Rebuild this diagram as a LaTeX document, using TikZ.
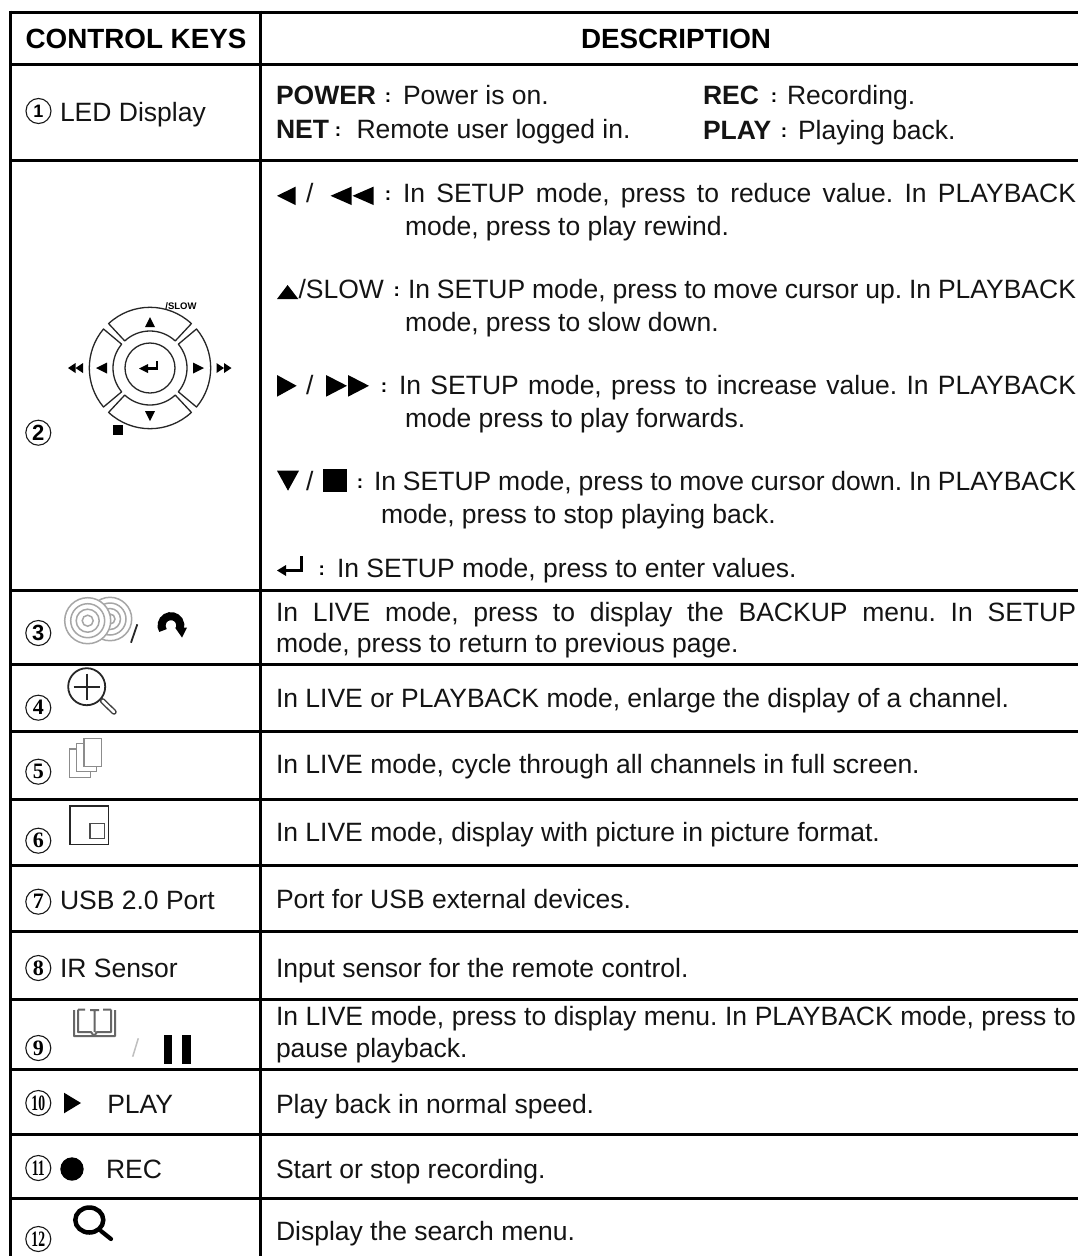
\documentclass[tikz,border=0pt]{standalone}
\usepackage{fontspec}
\usepackage{graphicx}
\setmainfont{Liberation Sans}
\newfontfamily\numfont{Liberation Serif}
\newcommand{\bodyf}{\fontsize{26.5}{33}\selectfont\frenchspacing}
\newcommand{\headf}{\fontsize{27.8}{33}\selectfont\bfseries}
\usetikzlibrary{arrows.meta}
\tikzset{
  x=1pt,y=-1pt,
  rule/.style={line width=3pt,black},
  txt/.style={inner sep=0pt,outer sep=0pt,anchor=base west,font=\bodyf,text=black!92},
  head/.style={inner sep=0pt,outer sep=0pt,anchor=base,font=\headf,text=black},
  dots/.style={inner sep=0pt,outer sep=0pt,anchor=base,font=\fontsize{19}{19}\selectfont\bfseries,text=black},
  ringb/.style={circle,draw=black!90,line width=1.1pt,minimum size=25pt,inner sep=0pt,outer sep=0pt},
  ringone/.style={ringb,font=\fontsize{18}{18}\selectfont\bfseries},
  ringbold/.style={ringb,font=\fontsize{22}{22}\selectfont\bfseries},
  ringsr/.style={ringb,font=\fontsize{22}{22}\selectfont\numfont\bfseries},
  key/.style={draw=black!85,line width=1.3pt,line join=round},
  iconline/.style={draw=black!45,line width=1.3pt},
  disc/.style={draw=black!35,line width=1.5pt},
}
\newcommand{\jline}[4]{\node[txt] (#1) at (#2,#3) {\hbox to \dimexpr 1076pt-#2pt\relax{#4}};}
\newcommand{\tline}[4]{\node[txt] (#1) at (#2,#3) {#4};}
\newcommand{\dotsat}[3]{\node[dots] (#1) at (#2,#3-2) {:};}
\begin{document}
\begin{tikzpicture}
\useasboundingbox (0,0) rectangle (1078,1256);
\fill[white] (0,0) rectangle (1078,1256);
% table rules
\foreach \yy in {12,64.5,160.5,590.7,664,731.7,799,865.7,931.7,999.3,1069.7,1134.5,1198.7}
  \draw[rule] (9,\yy) -- (1078,\yy);
\draw[rule] (10,10.5) -- (10,1256);
\draw[rule] (260,10.5) -- (260,1256);
% header
\node[head] (hkeys) at (136,48) {CONTROL KEYS};
\node[head] (hdesc) at (676,48.5) {DESCRIPTION};
% row 1
\node[ringone] (n1) at (38.5,111) {1};
\tline{led}{60}{121}{LED Display}
\tline{pw}{276}{104}{\bfseries POWER}
\dotsat{pwc}{388}{104}
\tline{pwt}{403}{104}{Power is on.}
\tline{net}{276}{138}{\bfseries NET}
\dotsat{netc}{338}{138}
\tline{nett}{356.5}{138}{Remote user logged in.}
\tline{rec}{703}{104}{\bfseries REC}
\dotsat{recc}{774}{104}
\tline{rect}{787}{104}{Recording.}
\tline{play}{703}{139}{\bfseries PLAY}
\dotsat{playc}{784}{139}
\tline{playt}{798}{139}{Playing back.}
% row 2 keypad
\node[ringbold] (n2) at (38.3,432.7) {2};
\begin{scope}[shift={(150,368)},x=1pt,y=1pt]
  \foreach \a/\b in {47/133,140/220,227/313,320/400}{
    \draw[key] (\a:60.7) arc[start angle=\a,end angle=\b,radius=60.7]
       -- (\b:37) arc[start angle=\b,end angle=\a,radius=37] -- cycle;
  }
  \draw[key] (0,0) circle[radius=25];
  \fill (-5,41) -- (5,41) -- (0,51) -- cycle;
  \fill (-5,-43) -- (5,-43) -- (0,-53) -- cycle;
  \fill (-43,-5.5) -- (-43,5.5) -- (-54,0) -- cycle;
  \fill (43,-5.5) -- (43,5.5) -- (54,0) -- cycle;
  \fill (-67,-5) -- (-67,5) -- (-74.5,0) -- cycle;
  \fill (-74.5,-5) -- (-74.5,5) -- (-82,0) -- cycle;
  \fill (66.5,-5) -- (66.5,5) -- (74,0) -- cycle;
  \fill (74,-5) -- (74,5) -- (81.5,0) -- cycle;
  \fill (-37,-57) rectangle (-27.5,-66.5);
  \draw[line width=2.6pt] (7,7) -- (7,-0.5) -- (-3,-0.5);
  \fill (-2,-5) -- (-2,4) -- (-11,-0.5) -- cycle;
\end{scope}
\node[inner sep=0pt,anchor=base,font=\fontsize{9.5}{9.5}\selectfont\bfseries] (slow) at (181,309.5) {/SLOW};
% row 2 text
\fill (295.5,186.7) -- (295.5,205) -- (277,195.8) -- cycle;
\tline{sl1}{306}{202}{/}
\fill (351.5,186.7) -- (351.5,205) -- (330.5,195.8) -- cycle;
\fill (373.5,186.7) -- (373.5,205) -- (352.5,195.8) -- cycle;
\dotsat{c1}{388}{202}
\jline{l1}{403}{202}{In SETUP mode, press to reduce value. In PLAYBACK}
\tline{l1b}{405}{235.5}{mode, press to play rewind.}
\fill (277,299) -- (298.3,299) -- (287.6,285) -- cycle;
\tline{sl2}{298.5}{298}{/SLOW}
\dotsat{c2}{396.7}{298}
\jline{l2}{408}{298}{In SETUP mode, press to move cursor up. In PLAYBACK}
\tline{l2b}{405}{331}{mode, press to slow down.}
\fill (277,375) -- (277,396.7) -- (296.7,385.8) -- cycle;
\tline{sl3}{306}{394}{/}
\fill (326,375) -- (326,396.7) -- (347,385.8) -- cycle;
\fill (348,375) -- (348,396.7) -- (369,385.8) -- cycle;
\dotsat{c3}{384}{394}
\jline{l3}{399}{394}{In SETUP mode, press to increase value. In PLAYBACK}
\tline{l3b}{405}{427}{mode press to play forwards.}
\fill (277,470.7) -- (299,470.7) -- (288,490.7) -- cycle;
\tline{sl4}{306}{490}{/}
\fill (322.7,469) rectangle (346.7,492);
\dotsat{c4}{360}{490}
\jline{l4}{374}{490}{In SETUP mode, press to move cursor down. In PLAYBACK}
\tline{l4b}{381}{523}{mode, press to stop playing back.}
\draw[line width=2.4pt] (301.5,556) -- (301.5,570.5) -- (285,570.5);
\fill (286,565) -- (286,576) -- (277,570.5) -- cycle;
\dotsat{c5}{321.7}{577}
\tline{l5}{337}{577}{In SETUP mode, press to enter values.}
% row 3
\node[ringbold] (n3) at (38.3,633) {3};
\foreach \r in {21.7,16,10.5,5}
  \draw[disc] (110,619) circle[radius=\r];
\fill[white] (87.7,620.7) circle[radius=23];
\foreach \r in {23,17,11.5,5.5}
  \draw[disc] (87.7,620.7) circle[radius=\r];
\draw[black!85,line width=1.8pt] (131,642.7) -- (137.3,624.3);
\begin{scope}[shift={(171,625.5)},x=1pt,y=1pt]
  \draw[black,line width=8pt] (-8,-5) arc[start angle=212,end angle=-20,radius=9.4];
  \fill (4,-2) -- (16,-2) -- (11,-12) -- cycle;
\end{scope}
\jline{r3a}{276}{621}{In LIVE mode, press to display the BACKUP menu. In SETUP}
\tline{r3b}{276}{652}{mode, press to return to previous page.}
% row 4
\node[ringsr] (n4) at (38.3,707.7) {4};
\draw[black!85,line width=1.8pt] (86.7,686.7) circle[radius=18.5];
\draw[black!85,line width=1.6pt] (73.5,686.7) -- (99.8,686.7) (86.7,673.5) -- (86.7,699.9);
\draw[black!75,line width=5.5pt,line cap=round] (102.5,700.8) -- (114,712);
\draw[white,line width=2.6pt,line cap=round] (102.5,700.8) -- (114,712);
\tline{r4}{276}{707}{In LIVE or PLAYBACK mode, enlarge the display of a channel.}
% row 5
\node[ringsr] (n5) at (38.3,771.7) {5};
\draw[iconline,fill=white] (69.3,749) rectangle (90.7,777.3);
\draw[iconline,fill=white] (76.7,743.5) rectangle (96.7,771.7);
\draw[iconline,fill=white] (84,738.3) rectangle (101.7,766.7);
\tline{r5}{276}{773}{In LIVE mode, cycle through all channels in full screen.}
% row 6
\node[ringsr] (n6) at (38.3,840.7) {6};
\draw[black!85,line width=1.2pt] (70,806) rectangle (108.7,844.7);
\draw[black!70,line width=1.2pt] (90,823.3) rectangle (104.7,838.7);
\tline{r6}{276}{841}{In LIVE mode, display with picture in picture format.}
% row 7
\node[ringsr] (n7) at (38.3,901.7) {7};
\tline{usb}{60}{909}{USB 2.0 Port}
\tline{r7}{276}{908}{Port for USB external devices.}
% row 8
\node[ringsr] (n8) at (38.3,968) {8};
\tline{ir}{60}{977}{IR Sensor}
\tline{r8}{276}{977}{Input sensor for the remote control.}
% row 9
\node[ringsr] (n9) at (38.3,1048) {9};
\draw[black!60,line width=2pt,line join=round]
  (74,1010) -- (74,1036) -- (115,1036) -- (115,1010)
  (78,1009.5) -- (78,1032) -- (91,1032) -- (94,1036) -- (97,1032) -- (111,1032) -- (111,1009.5)
  (78,1009.5) -- (85,1009.5) (111,1009.5) -- (103,1009.5)
  (94.5,1010) -- (94.5,1032) (90,1010) -- (99,1010);
\draw[black!25,line width=1.5pt] (132.7,1056.7) -- (138.3,1038.3);
\fill (164,1035) rectangle (172.3,1064);
\fill (181.7,1035) rectangle (190.7,1064);
\jline{r9a}{276}{1025}{In LIVE mode, press to display menu. In PLAYBACK mode, press to}
\tline{r9b}{276}{1057}{pause playback.}
% row 10
\node[ringsr] (n10) at (38.3,1103) {\scalebox{0.62}[1]{10}};
\fill (64,1092.7) -- (64,1113.3) -- (81,1103) -- cycle;
\tline{plk}{107.3}{1113}{PLAY}
\tline{r10}{276}{1113}{Play back in normal speed.}
% row 11
\node[ringsr] (n11) at (38.3,1168) {\scalebox{0.62}[1]{11}};
\fill (72,1169) circle[radius=11.7];
\tline{rek}{106}{1178}{REC}
\tline{r11}{276}{1178}{Start or stop recording.}
% row 12
\node[ringsr] (n12) at (38.3,1239) {\scalebox{0.62}[1]{12}};
\draw[black,line width=4.5pt] (89.3,1220) ellipse[x radius=14,y radius=12.5];
\draw[black,line width=4.2pt,line cap=round] (101,1231) -- (111,1239);
\tline{r12}{276}{1240}{Display the search menu.}
\end{tikzpicture}
\end{document}
